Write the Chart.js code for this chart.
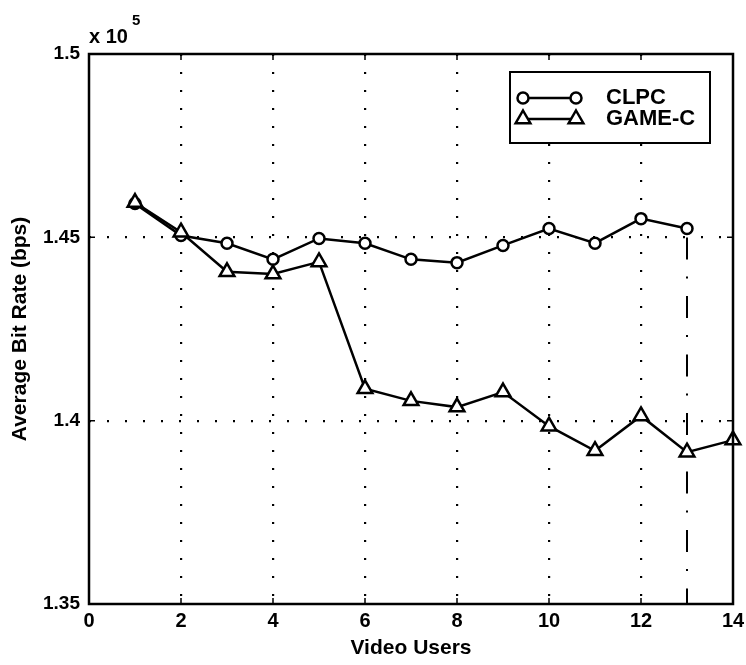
<!DOCTYPE html>
<html>
<head>
<meta charset="utf-8">
<title>Average Bit Rate</title>
<script src="https://cdn.jsdelivr.net/npm/chart.js@4"></script>
<style>
  body { margin: 0; background: #fff; }
  canvas { display: block; }
</style>
</head>
<body>
<canvas id="graficoTaxa" width="746" height="665"></canvas>
<script>
// valores lidos em bps
const usuarios = [1, 2, 3, 4, 5, 6, 7, 8, 9, 10, 11, 12, 13, 14];
const taxaClpc = [145920, 145050, 144840, 144400, 144970, 144840, 144400, 144310, 144780, 145240, 144840, 145510, 145240];
const taxaGame = [145950, 145140, 144060, 144000, 144330, 140870, 140540, 140370, 140780, 139850, 139180, 140130, 139140, 139470];
const ticksY = [135000, 140000, 145000, 150000];
const ticksX = [0, 2, 4, 6, 8, 10, 12, 14];
const yMin = 135000;
const yMax = 150000;
const usuarioMarcado = 13;

const fonte = "'Liberation Sans', Arial, sans-serif";

function pontos(valores){
    return valores.map((v, i) => ({ x: usuarios[i], y: v }));
}

// caixa, marcas internas, legenda e o "x 10^5"
const moldura = {
    id: 'moldura',
    afterDraw(chart){
        const ctx = chart.ctx;
        const a = chart.chartArea;
        const sx = chart.scales.x;
        const sy = chart.scales.y;
        ctx.save();
        ctx.strokeStyle = '#000';
        ctx.lineWidth = 2.5;
        ctx.setLineDash([]);
        ctx.strokeRect(a.left, a.top, a.right - a.left, a.bottom - a.top);

        ctx.lineWidth = 1.5;
        ticksX.forEach(t => {
            const px = sx.getPixelForValue(t);
            ctx.beginPath();
            ctx.moveTo(px, a.bottom); ctx.lineTo(px, a.bottom - 6);
            ctx.moveTo(px, a.top); ctx.lineTo(px, a.top + 6);
            ctx.stroke();
        });
        ticksY.forEach(t => {
            const py = sy.getPixelForValue(t);
            ctx.beginPath();
            ctx.moveTo(a.left, py); ctx.lineTo(a.left + 6, py);
            ctx.moveTo(a.right, py); ctx.lineTo(a.right - 6, py);
            ctx.stroke();
        });

        // expoente
        ctx.fillStyle = '#000';
        ctx.textBaseline = 'alphabetic';
        ctx.textAlign = 'left';
        ctx.font = 'bold 20px ' + fonte;
        ctx.fillText('x 10', a.left, a.top - 11);
        ctx.font = 'bold 15px ' + fonte;
        ctx.fillText('5', a.left + 43, a.top - 29);

        // legenda
        const lx = 510, ly = 72, lw = 200, lh = 71;
        ctx.fillStyle = '#fff';
        ctx.fillRect(lx, ly, lw, lh);
        ctx.lineWidth = 2;
        ctx.strokeStyle = '#000';
        ctx.strokeRect(lx, ly, lw, lh);
        const linhas = [chart.data.datasets[0], chart.data.datasets[1]];
        linhas.forEach((ds, i) => {
            const yy = ly + 26 + i * 21;
            ctx.lineWidth = 2.5;
            ctx.beginPath();
            ctx.moveTo(523, yy); ctx.lineTo(576, yy);
            ctx.stroke();
            [523, 576].forEach(xx => desenhaMarcador(ctx, ds.pointStyle, xx, yy, ds.pointRadius));
            ctx.fillStyle = '#000';
            ctx.font = 'bold 22px ' + fonte;
            ctx.textBaseline = 'middle';
            ctx.fillText(ds.label, 606, yy);
        });
        ctx.restore();
    }
};

function desenhaMarcador(ctx, estilo, x, y, r){
    ctx.save();
    ctx.fillStyle = '#fff';
    ctx.strokeStyle = '#000';
    ctx.lineWidth = 2.5;
    ctx.beginPath();
    if (estilo === 'circle'){
        ctx.arc(x, y, r, 0, Math.PI * 2);
    } else {
        ctx.moveTo(x, y - r);
        ctx.lineTo(x + r * 0.866, y + r * 0.5);
        ctx.lineTo(x - r * 0.866, y + r * 0.5);
        ctx.closePath();
    }
    ctx.fill();
    ctx.stroke();
    ctx.restore();
}

const grade = {
    color: ctx => (ctx.tick && (ctx.tick.value === ctx.scale.min || ctx.tick.value === ctx.scale.max)) ? 'rgba(0,0,0,0)' : '#000',
    lineWidth: 2.2,
    drawTicks: false
};

const graficoTaxa = new Chart(document.getElementById('graficoTaxa'), {
    type: 'line',
    data: {
        datasets: [{
            label: 'CLPC',
            data: pontos(taxaClpc),
            borderColor: '#000',
            borderWidth: 2.5,
            pointStyle: 'circle',
            pointRadius: 5.5,
            pointBorderWidth: 2.5,
            pointBackgroundColor: '#fff',
            pointBorderColor: '#000',
            clip: false,
            order: 2
        }, {
            label: 'GAME-C',
            data: pontos(taxaGame),
            borderColor: '#000',
            borderWidth: 2.5,
            pointStyle: 'triangle',
            pointRadius: 8.5,
            pointBorderWidth: 2.5,
            pointBackgroundColor: '#fff',
            pointBorderColor: '#000',
            clip: false,
            order: 1
        }, {
            label: 'marca',
            data: [
                { x: usuarioMarcado, y: taxaClpc[usuarioMarcado - 1] },
                { x: usuarioMarcado, y: yMin }
            ],
            borderColor: '#000',
            borderWidth: 2,
            borderDash: [22, 17, 2, 17.5],
            borderDashOffset: 49.5,
            pointRadius: 0,
            order: 5
        }]
    },
    options: {
        responsive: false,
        animation: false,
        layout: { padding: { top: 54, right: 13, left: 0, bottom: 0 } },
        plugins: {
            legend: { display: false },
            tooltip: { enabled: false }
        },
        scales: {
            x: {
                type: 'linear',
                min: 0,
                max: 14,
                afterBuildTicks: s => { s.ticks = ticksX.map(v => ({ value: v })); },
                afterFit: s => { s.height = 61; s.paddingLeft = 0; s.paddingRight = 0; },
                grid: grade,
                border: { display: false, dash: [2, 16] },
                ticks: {
                    color: '#000',
                    padding: 5,
                    font: { family: fonte, size: 20, weight: 'bold' }
                },
                title: {
                    display: true,
                    text: 'Video Users',
                    color: '#000',
                    padding: { top: 0, bottom: 4 },
                    font: { family: fonte, size: 21, weight: 'bold' }
                }
            },
            y: {
                min: yMin,
                max: yMax,
                afterBuildTicks: s => { s.ticks = ticksY.map(v => ({ value: v })); },
                afterFit: s => { s.width = 89; s.paddingTop = 0; s.paddingBottom = 0; },
                grid: grade,
                border: { display: false, dash: [2, 16] },
                ticks: {
                    color: '#000',
                    padding: 9,
                    font: { family: fonte, size: 19, weight: 'bold' },
                    callback: v => String(v / 100000)
                },
                title: {
                    display: true,
                    text: 'Average Bit Rate (bps)',
                    color: '#000',
                    padding: { top: 8, bottom: 0 },
                    font: { family: fonte, size: 21, weight: 'bold' }
                }
            }
        }
    },
    plugins: [moldura]
});
</script>
</body>
</html>
